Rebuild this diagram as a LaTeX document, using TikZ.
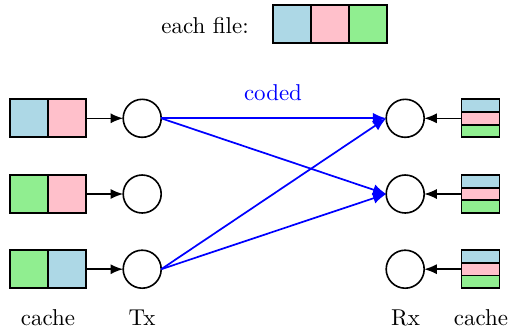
\documentclass[tikz,border=0pt]{standalone}
\usetikzlibrary{arrows.meta}
\definecolor{cblue}{RGB}{173,216,230}
\definecolor{cpink}{RGB}{255,192,203}
\definecolor{cgreen}{RGB}{144,238,144}
\begin{document}
\begin{tikzpicture}[x=0.436pt,y=-0.436pt,
  sq/.style={draw=black,line width=0.8pt,minimum width=38*0.436pt,minimum height=38*0.436pt,inner sep=0pt,outer sep=0pt},
  stripe/.style={draw=black,line width=0.8pt,minimum width=38*0.436pt,minimum height=12.67*0.436pt,inner sep=0pt,outer sep=0pt},
  user/.style={circle,draw=black,line width=0.7pt,minimum size=38*0.436pt,inner sep=0pt,outer sep=0pt},
  feed/.style={-{Latex[length=5.5pt,width=4.4pt]},line width=0.7pt},
  coded/.style={blue,-{Latex[length=5.8pt,width=4.8pt]},line width=0.75pt},
  lbl/.style={anchor=base,inner sep=0pt}]
\useasboundingbox (0,0) rectangle (511,333);
% each file
\node[lbl] (ef) at (205,33) {each file:};
\node[sq,fill=cblue] (f1) at (292.3,24) {};
\node[sq,fill=cpink] (f2) at (330.3,24) {};
\node[sq,fill=cgreen] (f3) at (368.3,24) {};
% left caches
\node[sq,fill=cblue] (l1a) at (29,118.3) {};
\node[sq,fill=cpink] (l1b) at (67,118.3) {};
\node[sq,fill=cgreen] (l2a) at (29,194) {};
\node[sq,fill=cpink] (l2b) at (67,194) {};
\node[sq,fill=cgreen] (l3a) at (29,269.2) {};
\node[sq,fill=cblue] (l3b) at (67,269.2) {};
% Tx
\node[user] (t1) at (142.2,118.3) {};
\node[user] (t2) at (142.2,194) {};
\node[user] (t3) at (142.2,269.2) {};
% Rx
\node[user] (r1) at (405.2,118.3) {};
\node[user] (r2) at (405.2,194) {};
\node[user] (r3) at (405.2,269.2) {};
% right caches
\foreach \n/\y in {1/118.3,2/194,3/269.2}{
  \node[stripe,fill=cblue] (c\n a) at (480.5,\y-12.67) {};
  \node[stripe,fill=cpink] (c\n b) at (480.5,\y) {};
  \node[stripe,fill=cgreen] (c\n c) at (480.5,\y+12.67) {};
}
% feeds
\draw[feed] (l1b.east) -- (t1.west);
\draw[feed] (l2b.east) -- (t2.west);
\draw[feed] (l3b.east) -- (t3.west);
\draw[feed] (c1b.west) -- (r1.east);
\draw[feed] (c2b.west) -- (r2.east);
\draw[feed] (c3b.west) -- (r3.east);
% coded
\draw[coded] (t1.east) -- (r1.west);
\draw[coded] (t1.east) -- (r2.west);
\draw[coded] (t3.east) -- (r1.west);
\draw[coded] (t3.east) -- (r2.west);
\node[lbl,blue] (cd) at (273,100) {coded};
% labels
\node[lbl] (lc) at (48,325) {cache};
\node[lbl] (lt) at (142,325) {Tx};
\node[lbl] (lr) at (405.5,325) {Rx};
\node[lbl] (rc) at (481,325) {cache};
\end{tikzpicture}
\end{document}
